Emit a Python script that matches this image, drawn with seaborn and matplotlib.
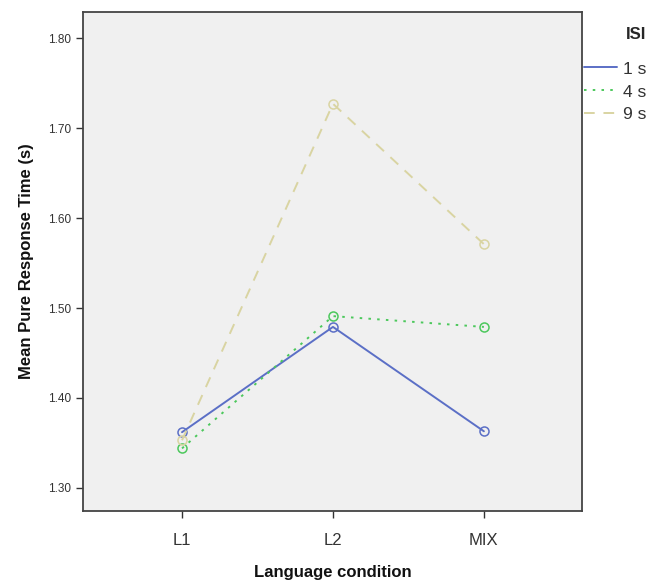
import matplotlib
matplotlib.use("Agg")
import matplotlib.pyplot as plt
import seaborn as sns
import pandas as pd
from matplotlib.lines import Line2D

conditions = ["L1", "L2", "MIX"]
isi_levels = ["1 s", "4 s", "9 s"]
rt_1s = [1.362, 1.479, 1.363]
rt_4s = [1.344, 1.491, 1.479]
rt_9s = [1.353, 1.727, 1.571]
y_ticks = [1.30, 1.40, 1.50, 1.60, 1.70, 1.80]

colors = {"1 s": "#5b6fc6", "4 s": "#4cc85c", "9 s": "#d9d4a2"}
dashes = {"1 s": "", "4 s": (1.3, 3.2), "9 s": (5.5, 4.5)}

rows = []
for lvl, vals in zip(isi_levels, [rt_1s, rt_4s, rt_9s]):
    for c, v in zip(conditions, vals):
        rows.append({"cond": c, "ISI": lvl, "rt": v})
df = pd.DataFrame(rows)

sns.set_style("white")
plt.rcParams["font.family"] = ["Liberation Sans", "DejaVu Sans"]
fig = plt.figure(figsize=(6.51, 5.83), dpi=100)
ax = fig.add_axes([83/651, 1-511/583, (582-83)/651, (511-12)/583])
ax.set_facecolor("#f0f0f0")

sns.lineplot(data=df, x="cond", y="rt", hue="ISI", style="ISI",
             hue_order=isi_levels, style_order=isi_levels,
             palette=colors, dashes=dashes, markers={k: "o" for k in isi_levels},
             markersize=6.5, linewidth=1.4, ax=ax, legend=False, sort=False)
for ln in ax.lines:
    ln.set_markerfacecolor("none")
    ln.set_markeredgecolor(ln.get_color())
    ln.set_markeredgewidth(1.1)

ax.set_xlim(-0.656, 2.65)
ax.set_ylim(1.2744, 1.829)
ax.set_yticks(y_ticks)
ax.set_yticklabels([f"{t:.2f}" for t in y_ticks], fontsize=8.5, color="#333333")
ax.tick_params(axis="x", labelsize=12, length=5, width=1, direction="out", bottom=True,
               colors="#333333", pad=11)
ax.tick_params(axis="y", length=5, width=1, direction="out", left=True, colors="#333333")
for s in ax.spines.values():
    s.set_color("#444444")
    s.set_linewidth(1.3)

ax.set_xlabel("Language condition", fontsize=12, fontweight="bold", labelpad=12, color="#111111")
ax.set_ylabel("Mean Pure Response Time (s)", fontsize=12, fontweight="bold", labelpad=10, color="#111111")

handles = [Line2D([0], [0], color=colors["1 s"], lw=1.4, ls="-"),
           Line2D([0], [0], color=colors["4 s"], lw=1.4, dashes=dashes["4 s"]),
           Line2D([0], [0], color=colors["9 s"], lw=1.4, dashes=dashes["9 s"])]
leg = ax.legend(handles, isi_levels, title="ISI", loc="upper left", bbox_to_anchor=(1.005, 0.97),
                frameon=False, fontsize=12.5, handlelength=1.9, handletextpad=0.3,
                labelspacing=0.45, borderaxespad=0.0, borderpad=0.0, labelcolor="#333333")
leg.get_title().set_fontweight("bold")
leg.get_title().set_fontsize(12)
leg._legend_box.align = "right"
leg._legend_box.sep = 14

fig.savefig("out.png", dpi=100)
